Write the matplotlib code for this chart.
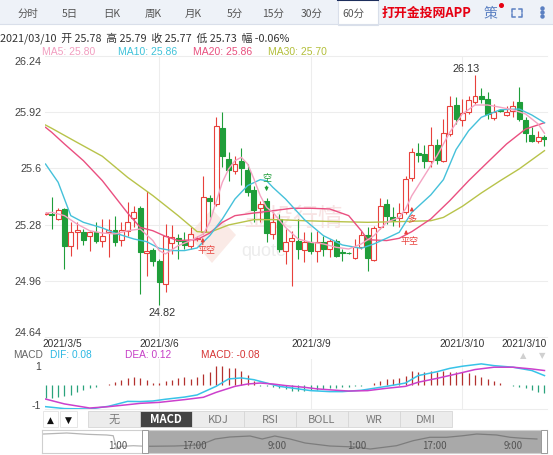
import matplotlib
matplotlib.use("Agg")
import matplotlib.pyplot as plt
from matplotlib.patches import Rectangle, Polygon
from matplotlib.lines import Line2D

plt.rcParams['font.family'] = ['Noto Sans CJK SC', 'DejaVu Sans']
NUM_FONT = ['Liberation Sans', 'DejaVu Sans']

W, H = 553, 456

# 60分K线 (index 0..79)
opens = [25.340, 25.340, 25.312, 25.369, 25.160, 25.240, 25.240, 25.217, 25.236, 25.188,
         25.236, 25.249, 25.194, 25.245, 25.316, 25.373, 25.118, 25.137, 25.075, 24.942,
         25.175, 25.202, 25.188, 25.156, 25.198, 25.236, 25.431, 25.397, 25.830, 25.654,
         25.587, 25.644, 25.593, 25.479, 25.373, 25.416, 25.226, 25.312, 25.131, 25.188,
         25.188, 25.137, 25.183, 25.131, 25.179, 25.141, 25.188, 25.126, 25.118, 25.088,
         25.150, 25.221, 25.080, 25.264, 25.397, 25.321, 25.316, 25.350, 25.543, 25.686,
         25.682, 25.644, 25.733, 25.644, 25.796, 25.961, 25.877, 25.919, 25.980, 26.014,
         25.995, 25.885, 25.929, 25.904, 25.929, 25.980, 25.877, 25.790, 25.758, 25.780]
highs = [25.350, 25.435, 25.373, 25.373, 25.293, 25.293, 25.255, 25.245, 25.297, 25.312,
         25.312, 25.331, 25.293, 25.407, 25.388, 25.388, 25.473, 25.145, 25.084, 25.283,
         25.278, 25.226, 25.236, 25.264, 25.215, 25.558, 25.449, 25.891, 25.919, 25.695,
         25.673, 25.714, 25.625, 25.502, 25.416, 25.430, 25.350, 25.340, 25.255, 25.245,
         25.312, 25.240, 25.236, 25.245, 25.217, 25.198, 25.198, 25.141, 25.122, 25.198,
         25.245, 25.264, 25.274, 25.430, 25.426, 25.378, 25.403, 25.559, 25.714, 25.745,
         25.733, 25.834, 25.767, 25.881, 26.014, 26.005, 25.995, 26.014, 26.130, 26.056,
         26.037, 25.967, 25.938, 25.957, 25.986, 26.062, 25.891, 25.834, 25.815, 25.790]
lows = [25.335, 25.255, 25.308, 25.027, 25.103, 25.141, 25.164, 25.131, 25.175, 25.150,
        25.094, 25.160, 25.160, 25.217, 25.264, 24.885, 24.990, 25.046, 24.820, 24.894,
        25.113, 25.084, 25.141, 25.141, 25.188, 25.228, 25.321, 25.388, 25.606, 25.530,
        25.568, 25.506, 25.445, 25.293, 25.293, 25.183, 25.198, 25.122, 25.056, 24.929,
        25.084, 25.065, 25.113, 25.065, 25.103, 25.094, 25.094, 25.075, 25.113, 25.084,
        25.141, 25.018, 25.075, 25.255, 25.283, 25.274, 25.264, 25.340, 25.530, 25.635,
        25.600, 25.606, 25.625, 25.635, 25.786, 25.853, 25.843, 25.910, 25.967, 25.972,
        25.881, 25.878, 25.919, 25.900, 25.891, 25.872, 25.748, 25.748, 25.745, 25.730]
closes = [25.345, 25.335, 25.365, 25.156, 25.236, 25.249, 25.194, 25.236, 25.188, 25.217,
          25.251, 25.183, 25.249, 25.293, 25.350, 25.122, 25.131, 25.075, 24.951, 25.217,
          25.207, 25.188, 25.164, 25.226, 25.205, 25.436, 25.416, 25.840, 25.669, 25.593,
          25.625, 25.600, 25.464, 25.365, 25.397, 25.232, 25.293, 25.141, 25.179, 25.202,
          25.141, 25.183, 25.131, 25.183, 25.141, 25.188, 25.103, 25.118, 25.116, 25.150,
          25.221, 25.088, 25.259, 25.388, 25.331, 25.308, 25.346, 25.540, 25.695, 25.678,
          25.644, 25.733, 25.650, 25.802, 25.953, 25.881, 25.915, 25.991, 26.010, 25.995,
          25.910, 25.923, 25.927, 25.923, 25.957, 25.881, 25.802, 25.758, 25.777, 25.770]

# 均线 (read at sample candles)
ma5_idx = [0, 1, 3, 5, 7, 9, 11, 13, 15, 17, 18, 19, 21, 23, 25, 26, 27, 28, 29, 30, 31, 32, 33, 34,
           35, 36, 38, 40, 42, 44, 46, 48, 50, 52, 54, 56, 57, 58, 60, 62, 64, 66, 68, 70, 72, 74,
           76, 78, 79]
ma5_val = [25.344, 25.350, 25.331, 25.283, 25.245, 25.232, 25.227, 25.245, 25.255, 25.189, 25.132,
           25.113, 25.160, 25.189, 25.227, 25.293, 25.407, 25.521, 25.597, 25.644, 25.663, 25.625,
           25.540, 25.445, 25.378, 25.350, 25.264, 25.198, 25.179, 25.170, 25.151, 25.141, 25.170,
           25.217, 25.293, 25.321, 25.369, 25.445, 25.559, 25.673, 25.805, 25.910, 25.961, 25.961,
           25.948, 25.934, 25.910, 25.853, 25.800]
ma10_idx = [0, 2, 4, 6, 9, 11, 14, 16, 18, 20, 22, 24, 26, 28, 30, 32, 34, 35, 36, 38, 41, 44, 47,
            50, 52, 54, 56, 58, 61, 63, 65, 67, 69, 72, 75, 77, 79]
ma10_val = [25.625, 25.521, 25.331, 25.293, 25.261, 25.232, 25.198, 25.183, 25.145, 25.132, 25.132,
            25.147, 25.217, 25.312, 25.426, 25.502, 25.536, 25.530, 25.492, 25.426, 25.308, 25.217,
            25.164, 25.145, 25.170, 25.202, 25.236, 25.350, 25.449, 25.536, 25.707, 25.815, 25.891,
            25.934, 25.938, 25.904, 25.860]
ma20_idx = [0, 1, 3, 6, 9, 13, 15, 17, 19, 21, 24, 26, 28, 30, 33, 36, 39, 42, 45, 48, 50, 51, 54,
            56, 58, 61, 64, 67, 70, 73, 76, 79]
ma20_val = [25.834, 25.805, 25.739, 25.644, 25.530, 25.346, 25.264, 25.245, 25.213, 25.189, 25.194,
            25.232, 25.293, 25.331, 25.346, 25.359, 25.373, 25.373, 25.369, 25.331, 25.245, 25.194,
            25.189, 25.202, 25.240, 25.312, 25.416, 25.530, 25.635, 25.739, 25.824, 25.860]
ma30_idx = [0, 1, 5, 9, 13, 17, 21, 24, 26, 29, 33, 37, 41, 46, 51, 56, 61, 63, 66, 69, 72, 75, 79]
ma30_val = [25.847, 25.828, 25.748, 25.669, 25.549, 25.445, 25.331, 25.240, 25.236, 25.278, 25.308,
            25.308, 25.302, 25.297, 25.293, 25.297, 25.302, 25.321, 25.384, 25.460, 25.530, 25.597,
            25.701]

# MACD
macd_bar = [-0.67, -0.64, -0.59, -0.55, -0.50, -0.37, -0.25, -0.14, -0.07, -0.01,
            0.06, 0.18, 0.27, 0.37, 0.44, 0.35, 0.25, 0.10, 0.10, 0.23,
            0.28, 0.35, 0.40, 0.32, 0.40, 0.57, 0.66, 0.97, 1.00, 0.88,
            0.86, 0.75, 0.52, 0.23, -0.02, -0.06, -0.08, -0.16, -0.19, -0.28,
            -0.28, -0.28, -0.23, -0.23, -0.19, -0.16, -0.13, -0.11, -0.08, -0.04,
            -0.02, 0.01, 0.11, 0.23, 0.32, 0.32, 0.37, 0.49, 0.73, 0.66,
            0.69, 0.73, 0.66, 0.75, 0.69, 0.69, 0.66, 0.63, 0.52, 0.40,
            0.32, 0.23, 0.10, 0.01, -0.02, -0.08, -0.14, -0.23, -0.33, -0.40]
dif_idx = [0, 3, 7, 10, 13, 15, 17, 19, 22, 24, 27, 29, 31, 33, 35, 37, 40, 42, 45, 47, 50, 51,
           54, 57, 59, 62, 64, 66, 69, 71, 74, 77, 79]
dif_val = [-1.10, -1.20, -1.22, -1.08, -0.83, -0.84, -0.81, -0.72, -0.61, -0.50, -0.06, 0.32, 0.37,
           0.28, 0.11, -0.06, -0.19, -0.28, -0.33, -0.33, -0.26, -0.21, -0.06, 0.11, 0.49, 0.69,
           0.86, 0.97, 1.09, 1.00, 0.92, 0.75, 0.49]
dea_idx = [0, 3, 7, 10, 13, 15, 18, 22, 25, 27, 30, 32, 34, 36, 38, 41, 43, 46, 48, 51, 54, 57, 59,
           62, 65, 68, 71, 74, 77, 79]
dea_val = [-0.71, -0.96, -1.17, -1.10, -1.00, -0.93, -0.88, -0.74, -0.62, -0.37, -0.06, 0.06, 0.11,
           0.06, -0.02, -0.11, -0.19, -0.26, -0.30, -0.28, -0.16, -0.06, 0.15, 0.35, 0.57, 0.80,
           0.92, 0.92, 0.83, 0.75]

price_ticks = [26.24, 25.92, 25.6, 25.28, 24.96, 24.64]
date_pos = [0, 18, 42, 66, 79]
date_labels = ['2021/3/5', '2021/3/6', '2021/3/9', '2021/3/10', '2021/3/10']

tab_labels = ['分时', '5日', '日K', '周K', '月K', '5分', '15分', '30分', '60分']
tab_x = [28, 70, 112, 153, 193, 235, 273, 312, 353]
ind_labels = ['无', 'MACD', 'KDJ', 'RSI', 'BOLL', 'WR', 'DMI']

# 缩略导航 (time fraction, level)
nav_t = [0.003, 0.049, 0.089, 0.128, 0.141, 0.148, 0.156, 0.181, 0.207, 0.263, 0.313, 0.343, 0.372,
         0.412, 0.436, 0.461, 0.491, 0.521, 0.570, 0.620, 0.650, 0.702, 0.735, 0.768, 0.801, 0.834,
         0.861, 0.900, 0.927, 0.952, 0.980]
nav_v = [0.826, 0.870, 0.813, 0.783, 0.752, 0.174, 0.291, 0.317, 0.291, 0.304, 0.348, 0.609, 0.696,
         0.739, 0.609, 0.739, 0.609, 0.435, 0.304, 0.261, 0.174, 0.317, 0.535, 0.683, 0.683, 0.752,
         0.826, 0.783, 0.683, 0.639, 0.609]
nav_tick_t = [0.150, 0.301, 0.465, 0.624, 0.778, 0.933]
nav_tick_lab = ['1:00', '17:00', '9:00', '1:00', '17:00', '9:00']

RED = '#e8413c'
GREEN = '#1f9e3a'
GRID = '#ededed'

fig = plt.figure(figsize=(W / 100, H / 100), dpi=100)


def fx(x):
    return x / W


def fy(y):
    return 1 - y / H


def box(x, y, w, h, **kw):
    fig.add_artist(Rectangle((fx(x), fy(y + h)), w / W, h / H, transform=fig.transFigure, **kw))


def label(x, y, s, **kw):
    kw.setdefault('va', 'center')
    fig.text(fx(x), fy(y), s, **kw)


def seg(xs, ys, **kw):
    fig.add_artist(Line2D([fx(v) for v in xs], [fy(v) for v in ys], transform=fig.transFigure, **kw))


# ---- 顶部标签栏 ----
box(0, 0, W, 25, facecolor='#eef2f8', edgecolor='none')
seg([0, W], [25, 25], color='#d9dfea', lw=0.8)
box(338, 0, 40, 25.5, facecolor='white', edgecolor='#d9dfea', lw=0.8)
seg([338, 378], [0.8, 0.8], color='#1d2e5c', lw=1.5)
for t, x in zip(tab_labels, tab_x):
    label(x, 14, t, ha='center', fontsize=7.5, color='#555555')
label(382, 13, '打开金投网APP', ha='left', fontsize=9.3, color='#e60012', fontweight='bold')
label(491, 14, '策', ha='center', fontsize=10, color='#5b80c2')
fig.add_artist(Line2D([fx(501)], [fy(6)], marker='o', ms=2.6, color='#e60012', transform=fig.transFigure))
for cx, cy, dx, dy in [(512, 10, 1, 1), (522, 10, -1, 1), (512, 18, 1, -1), (522, 18, -1, -1)]:
    seg([cx + 3 * dx, cx, cx], [cy, cy, cy + 3 * dy], color='#5b80c2', lw=1.1)
for cy in [9, 13, 17]:
    fig.add_artist(Line2D([fx(542)], [fy(cy)], marker='o', ms=2.2, color='#5b80c2', transform=fig.transFigure))

# ---- 信息行 ----
label(0, 38, '2021/03/10  开 25.78  高 25.79  收 25.77  低 25.73  幅 -0.06%', ha='left',
      fontsize=7.8, color='#333333')
label(42, 52, 'MA5: 25.80', ha='left', fontsize=7.5, color='#f29ec0', family=NUM_FONT)
label(118, 52, 'MA10: 25.86', ha='left', fontsize=7.5, color='#3ec2d9', family=NUM_FONT)
label(193, 52, 'MA20: 25.86', ha='left', fontsize=7.5, color='#e8507e', family=NUM_FONT)
label(268, 52, 'MA30: 25.70', ha='left', fontsize=7.5, color='#b3bf3a', family=NUM_FONT)

# ---- 主图 ----
ax = fig.add_axes([fx(45), fy(338), 502 / W, 281 / H])
ax.set_xlim(-0.08, 79.4)
ax.set_ylim(24.64, 26.24)
ax.set_xticks([])
ax.set_yticks([])
for s in ax.spines.values():
    s.set_visible(False)
for p in price_ticks:
    ax.axhline(p, color=GRID, lw=0.8, zorder=0, clip_on=False)
for d in date_pos[1:4]:
    ax.axvline(d, color=GRID, lw=0.8, zorder=0)

for k, p in enumerate(price_ticks):
    va = 'top' if k == 0 else ('bottom' if k == len(price_ticks) - 1 else 'center')
    ax.text(-0.006, p, f'{p:g}', transform=ax.get_yaxis_transform(), ha='right', va=va,
            fontsize=7.8, color='#444444', family=NUM_FONT)

for k, (d, t) in enumerate(zip(date_pos, date_labels)):
    ha = 'left' if k == 0 else ('right' if k == len(date_pos) - 1 else 'center')
    xpos = -0.5 if k == 0 else (79.4 if k == len(date_pos) - 1 else d)
    ax.text(xpos, -0.023, t, transform=ax.get_xaxis_transform(), ha=ha, va='center',
            fontsize=7.3, color='#333333', family=NUM_FONT, clip_on=False)

# 水印
wm = ax.transAxes
ax.add_patch(Polygon([((212 - 45) / 502, (338 - 210) / 281), ((236 - 45) / 502, (338 - 236) / 281),
                      ((212 - 45) / 502, (338 - 264) / 281), ((188 - 45) / 502, (338 - 236) / 281)],
                     closed=True, transform=wm, facecolor='#f7ddd6', edgecolor='none', alpha=0.6, zorder=0))
ax.text((243 - 45) / 502, (338 - 219) / 281, '金投行情', transform=wm, fontsize=18, color='#f7e3e3',
        ha='left', va='center', zorder=0)
ax.text((241 - 45) / 502, (338 - 252) / 281, 'quote', transform=wm, fontsize=13,
        color='#ececec', ha='left', va='center', zorder=0, family=NUM_FONT)

for i, (o, h, l, c) in enumerate(zip(opens, highs, lows, closes)):
    up = c >= o
    col = RED if up else GREEN
    ax.vlines(i, l, h, color=col, lw=0.8, zorder=2)
    ax.bar(i, max(abs(c - o), 0.004), bottom=min(o, c), width=0.78,
           facecolor='white' if up else col, edgecolor=col, lw=0.8, zorder=3)

ax.plot(ma30_idx, ma30_val, color='#b8c34a', lw=1.0, zorder=4)
ax.plot(ma20_idx, ma20_val, color='#ea4f80', lw=1.0, zorder=4)
ax.plot(ma10_idx, ma10_val, color='#45c1da', lw=1.0, zorder=4)
ax.plot(ma5_idx, ma5_val, color='#f4a3c2', lw=1.0, zorder=4)

# 最高/最低
ax.text(18.5, 24.78, '24.82', ha='center', va='center', fontsize=7.8, color='#333333', family=NUM_FONT)
ax.text(66.6, 26.17, '26.13', ha='center', va='center', fontsize=7.8, color='#333333', family=NUM_FONT)

# 信号
arrow = dict(arrowstyle='-|>', lw=0.8, mutation_scale=5)
ax.annotate('', xy=(24.9, 25.221), xytext=(24.9, 25.15), arrowprops=dict(arrow, color=RED), zorder=5)
ax.text(25.5, 25.138, '平空', ha='center', va='center', fontsize=6.5, color=RED, zorder=5)
ax.annotate('', xy=(35, 25.454), xytext=(35, 25.515), arrowprops=dict(arrow, color=GREEN), zorder=5)
ax.text(35, 25.545, '空', ha='center', va='center', fontsize=6.5, color=GREEN, zorder=5)
ax.annotate('', xy=(57.1, 25.266), xytext=(57.1, 25.215), arrowprops=dict(arrow, color=RED), zorder=5)
ax.text(57.7, 25.187, '平空', ha='center', va='center', fontsize=6.5, color=RED, zorder=5)
ax.annotate('', xy=(58, 25.397), xytext=(58, 25.345), arrowprops=dict(arrow, color=RED), zorder=5)
ax.text(58, 25.312, '多', ha='center', va='center', fontsize=6.5, color=RED, zorder=5)

# ---- MACD ----
label(13, 355.5, 'MACD', ha='left', fontsize=7.3, color='#666666', family=NUM_FONT)
label(50, 355.5, 'DIF: 0.08', ha='left', fontsize=7.3, color='#2cb8e3', family=NUM_FONT)
label(125, 355.5, 'DEA: 0.12', ha='left', fontsize=7.3, color='#c63fc6', family=NUM_FONT)
label(201, 355.5, 'MACD: -0.08', ha='left', fontsize=7.3, color='#d63434', family=NUM_FONT)
label(523, 356, '▲', ha='center', fontsize=6, color='#d0d0d0', family=['DejaVu Sans'])
label(542, 356, '▼', ha='center', fontsize=6, color='#d0d0d0', family=['DejaVu Sans'])

mx = fig.add_axes([fx(45), fy(410), 502 / W, 50 / H])
mx.set_xlim(-0.08, 79.4)
mx.set_ylim(-1.22, 1.34)
mx.set_xticks([])
mx.set_yticks([])
for s in mx.spines.values():
    s.set_visible(False)
mx.axhline(-1.22, color=GRID, lw=0.8, zorder=0, clip_on=False)
for d in date_pos[1:4]:
    mx.axvline(d, color=GRID, lw=0.8, zorder=0)
for v in [1, -1]:
    mx.text(-0.008, v, f'{v}', transform=mx.get_yaxis_transform(), ha='right', va='center',
            fontsize=7.5, color='#444444', family=NUM_FONT)
for j, v in enumerate(macd_bar):
    mx.vlines(j, 0, v, color='#b3302e' if v >= 0 else '#2aa37c', lw=0.9, zorder=2)
mx.plot(dif_idx, dif_val, color='#38c3e8', lw=1.1, zorder=3)
mx.plot(dea_idx, dea_val, color='#cc40cc', lw=1.1, zorder=3)

# ---- 指标按钮 ----
box(43, 412, 15, 16, facecolor='white', edgecolor='#e2e2e2', lw=0.6)
box(60, 412, 17, 16, facecolor='white', edgecolor='#e2e2e2', lw=0.6)
label(50.5, 420, '▲', ha='center', fontsize=6.5, color='#111111', family=['DejaVu Sans'])
label(68.5, 420, '▼', ha='center', fontsize=6.5, color='#111111', family=['DejaVu Sans'])
for k, t in enumerate(ind_labels):
    x0 = 88 + 52 * k
    sel = t == 'MACD'
    box(x0, 412, 52, 16, facecolor='#444444' if sel else '#ececec', edgecolor='#d6d6d6', lw=0.6)
    label(x0 + 26, 420, t, ha='center', fontsize=8, color='white' if sel else '#7a7a7a',
          fontweight='bold' if sel else 'normal')

# ---- 导航条 ----
nx = fig.add_axes([fx(42), fy(454), 505 / W, 23 / H])
nx.set_xlim(0, 1)
nx.set_ylim(0, 1)
nx.set_xticks([])
nx.set_yticks([])
for s in nx.spines.values():
    s.set_color('#cfcfcf')
    s.set_linewidth(0.8)
nx.axvspan(0.208, 0.992, color='#a9a9a9', zorder=1)
nx.plot(nav_t[:9], nav_v[:9], color='#b5b5b5', lw=0.9, zorder=2)
nx.plot(nav_t[8:], nav_v[8:], color='#7d7d7d', lw=0.9, zorder=2)
for t, s in zip(nav_tick_t, nav_tick_lab):
    nx.text(t, 0.35, s, ha='center', va='center', fontsize=7, color='#555555', zorder=3)
box(142, 431, 6, 23, facecolor='white', edgecolor='#9a9a9a', lw=0.7)
box(541, 431, 6, 23, facecolor='white', edgecolor='#9a9a9a', lw=0.7)

fig.savefig('out.png', dpi=100, facecolor='white')
